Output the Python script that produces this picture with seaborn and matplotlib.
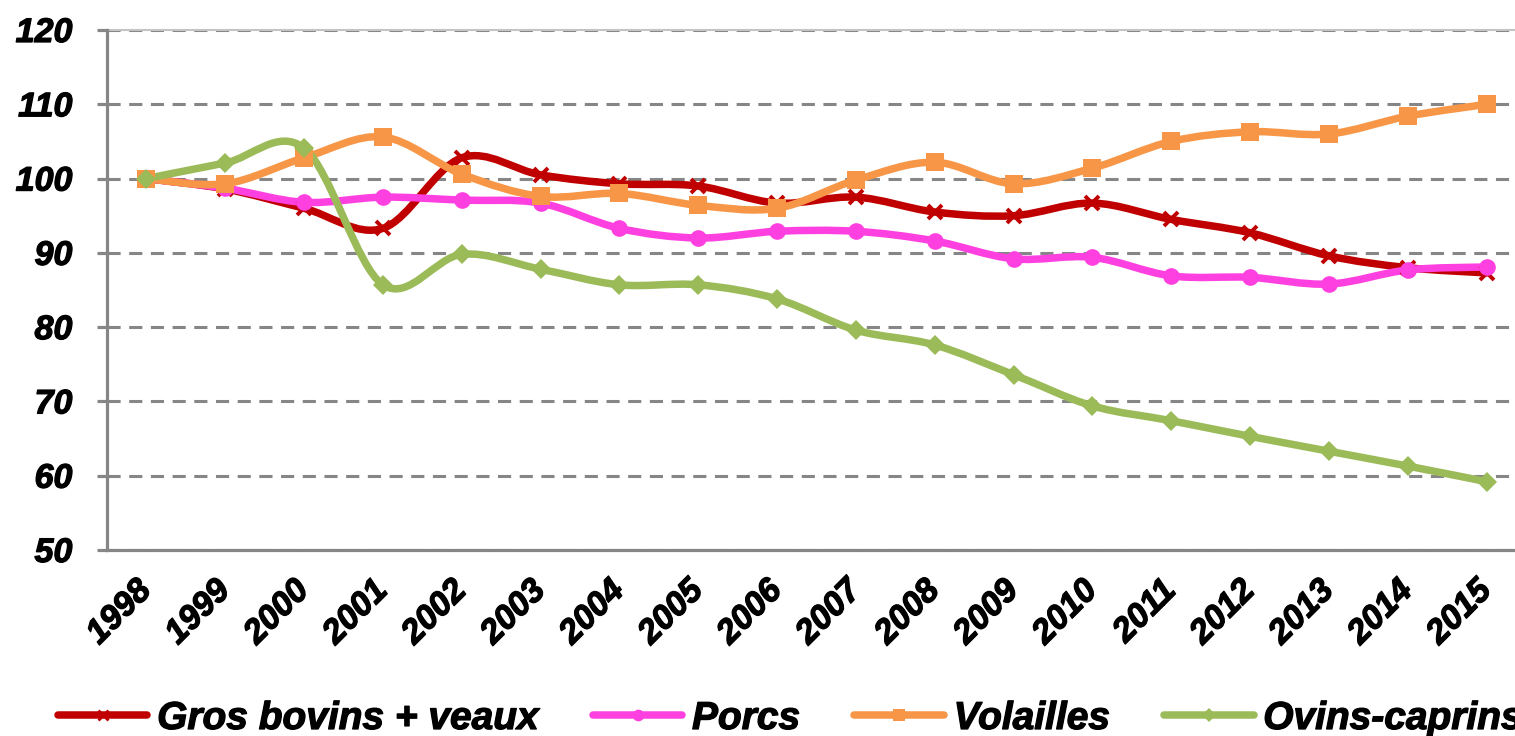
import numpy as np
import pandas as pd
import matplotlib
matplotlib.use("Agg")
import matplotlib.pyplot as plt
import matplotlib.patheffects as pe
from matplotlib.path import Path
from matplotlib.patches import PathPatch
from matplotlib.lines import Line2D
import seaborn as sns

# Data (index, base 100 in 1998)
years = [str(y) for y in range(1998, 2016)]
gros_bovins = [100.0, 98.6, 96.0, 93.3, 102.8, 100.5, 99.3, 99.0, 96.7, 97.5,
               95.5, 95.0, 96.7, 94.5, 92.7, 89.6, 88.0, 87.3]
porcs = [100.0, 98.7, 96.8, 97.5, 97.1, 96.7, 93.3, 92.0, 92.9, 92.9,
         91.6, 89.2, 89.4, 86.9, 86.7, 85.8, 87.7, 88.1]
volailles = [100.0, 99.3, 102.8, 105.6, 100.6, 97.6, 98.0, 96.4, 96.0, 99.8,
             102.2, 99.3, 101.4, 105.0, 106.3, 106.0, 108.4, 110.0]
ovins_caprins = [100.0, 102.1, 104.1, 85.7, 89.8, 87.8, 85.7, 85.7, 83.8, 79.6,
                 77.6, 73.6, 69.4, 67.4, 65.3, 63.3, 61.3, 59.2]
series_names = ["Gros bovins + veaux", "Porcs", "Volailles", "Ovins-caprins"]
y_ticks = [50, 60, 70, 80, 90, 100, 110, 120]

colors = ["#C00000", "#FF40E0", "#F79646", "#9BBB59"]
markers = ["x", "o", "s", "D"]
msizes = [10, 12, 12.5, 10]

sns.set_style("white")
plt.rcParams["font.family"] = ["Liberation Sans", "DejaVu Sans"]
plt.rcParams["text.color"] = "black"
plt.rcParams["xtick.color"] = "black"
plt.rcParams["ytick.color"] = "black"

values = [gros_bovins, porcs, volailles, ovins_caprins]
pos = np.arange(len(years))
df = pd.DataFrame({
    "x": np.tile(pos, len(series_names)),
    "value": np.concatenate(values),
    "series": np.repeat(series_names, len(years)),
})


def smooth_path(xs, ys):
    # Excel-like smoothed line: Catmull-Rom segments as cubic Bezier curves
    pts = np.column_stack([xs, ys]).astype(float)
    ext = np.vstack([pts[0], pts, pts[-1]])
    verts = [pts[0]]
    codes = [Path.MOVETO]
    for i in range(1, len(ext) - 2):
        p0, p1, p2, p3 = ext[i - 1], ext[i], ext[i + 1], ext[i + 2]
        verts += [p1 + (p2 - p0) / 6, p2 - (p3 - p1) / 6, p2]
        codes += [Path.CURVE4] * 3
    return Path(verts, codes)


fig = plt.figure(figsize=(15.15, 7.36), dpi=100)
ax = fig.add_axes([107 / 1515, 1 - 550 / 736, (1526 - 107) / 1515, (550 - 30) / 736])

lw = 5.4
for name, col, mk, ms in zip(series_names, colors, markers, msizes):
    sub = df[df["series"] == name]
    patch = PathPatch(smooth_path(sub["x"].values, sub["value"].values),
                      facecolor="none", edgecolor=col, lw=lw,
                      capstyle="round", joinstyle="round")
    ax.add_patch(patch)
    sns.lineplot(data=sub, x="x", y="value", ax=ax, color=col, marker=mk,
                 markersize=ms, markeredgewidth=2.8 if mk == "x" else 0,
                 markeredgecolor=col, linestyle="none", legend=False)

bold_fx = [pe.withStroke(linewidth=0.9, foreground="black")]
tick_font = {"size": 24.5, "weight": "bold", "style": "italic"}
ax.set_xlim(-0.5, len(years) - 0.5)
ax.set_ylim(50, 120)
ax.set_yticks(y_ticks)
ax.set_yticklabels([str(v) for v in y_ticks], fontdict=tick_font)
ax.set_xticks(pos)
ax.set_xticklabels(years, rotation=45, ha="right", va="center",
                   rotation_mode="anchor", fontdict=tick_font)
ax.set_xticks(np.arange(len(years) + 1) - 0.5, minor=True)
ax.tick_params(axis="x", which="major", length=0, pad=26)
ax.tick_params(axis="x", which="minor", length=7, width=2.3, color="#868686",
               direction="out")
ax.tick_params(axis="y", length=7, width=2.3, color="#868686", pad=18,
               direction="out", left=True)
for lbl in ax.get_xticklabels() + ax.get_yticklabels():
    lbl.set_path_effects(bold_fx)
ax.set_xlabel("")
ax.set_ylabel("")

ax.yaxis.grid(True, linestyle=(0, (4.3, 2.8)), color="#868686", lw=2.2)
ax.set_axisbelow(True)
ax.spines["right"].set_visible(False)
ax.spines["top"].set_color("#c4c4c4")
ax.spines["top"].set_linewidth(1.5)
for s in ["left", "bottom"]:
    ax.spines[s].set_color("#868686")
    ax.spines[s].set_linewidth(2.3)
    ax.spines[s].set_zorder(3)

handles = [Line2D([], [], color=c, lw=lw, marker=m, markersize=ms * 0.7,
                  markeredgewidth=2 if m == "x" else 0, markeredgecolor=c)
           for c, m, ms in zip(colors, markers, msizes)]
leg = fig.legend(handles, series_names, loc="center left",
                 bbox_to_anchor=(58 / 1515, 1 - 719 / 736), ncol=4, frameon=False,
                 prop={"size": 28, "weight": "bold", "style": "italic"},
                 handlelength=2.3, handletextpad=0.25, columnspacing=1.4,
                 borderaxespad=0, borderpad=0)
for t in leg.get_texts():
    t.set_path_effects(bold_fx)

fig.savefig("out.png", dpi=100)
